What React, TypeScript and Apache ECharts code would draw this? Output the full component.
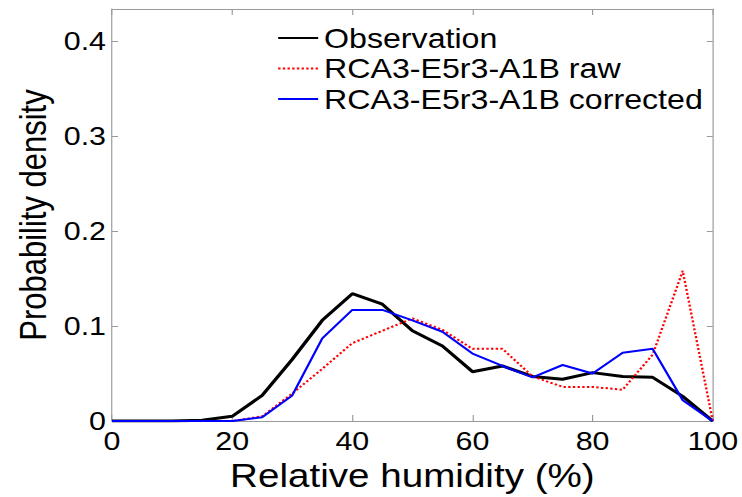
import React, { useEffect, useRef } from "react";
import * as echarts from "echarts";

const humidity = [0, 5, 10, 15, 20, 25, 30, 35, 40, 45, 50, 55, 60, 65, 70, 75, 80, 85, 90, 95, 100];
const observation = [0, 0, 0, 0.001, 0.005, 0.027, 0.065, 0.106, 0.134, 0.123, 0.095, 0.079, 0.052, 0.058, 0.047, 0.044, 0.051, 0.047, 0.046, 0.026, 0];
const rawModel = [0, 0, 0, 0, 0, 0.005, 0.029, 0.055, 0.082, 0.095, 0.108, 0.096, 0.076, 0.076, 0.047, 0.036, 0.036, 0.033, 0.07, 0.158, 0];
const correctedModel = [0, 0, 0, 0, 0, 0.004, 0.027, 0.087, 0.117, 0.117, 0.106, 0.094, 0.071, 0.058, 0.046, 0.059, 0.05, 0.072, 0.076, 0.022, 0];
const seriesNames = ["Observation", "RCA3-E5r3-A1B raw", "RCA3-E5r3-A1B corrected"];

const FONT = "'Liberation Sans', Arial, Helvetica, sans-serif";
const AXIS_GRAY = "#9a9a9a";
// the reference picture is stretched horizontally; draw narrower and stretch with CSS
const STRETCH = 1.17;
const W = 742;
const H = 497;

export default function App() {
  const ref = useRef<HTMLDivElement>(null);
  useEffect(() => {
    if (!ref.current) return;
    const chart = echarts.init(ref.current, null, { renderer: "svg" });
    const pair = (ys: number[]) => humidity.map((x, i) => [x, ys[i]]);
    const s = (px: number) => px / STRETCH;
    const xCommon = {
      type: "value" as const,
      min: 0,
      max: 100,
      interval: 20,
      axisLine: { show: true, onZero: false, lineStyle: { color: AXIS_GRAY, width: 1 } },
      axisTick: { show: true, inside: true, length: 6, lineStyle: { color: AXIS_GRAY } },
      splitLine: { show: false },
    };
    const yCommon = {
      type: "value" as const,
      min: 0,
      max: 0.4335,
      interval: 0.1,
      axisLine: { show: true, onZero: false, lineStyle: { color: AXIS_GRAY, width: 1 } },
      axisTick: { show: true, inside: true, length: s(6), lineStyle: { color: AXIS_GRAY } },
      splitLine: { show: false },
    };
    chart.setOption({
      animation: false,
      backgroundColor: "#ffffff",
      grid: { left: s(112), right: s(29), top: 9, bottom: 74, containLabel: false },
      legend: {
        data: seriesNames,
        orient: "vertical",
        left: s(277),
        top: 24,
        padding: 0,
        itemGap: 2.5,
        itemWidth: s(40),
        itemHeight: 14,
        itemStyle: { opacity: 0 },
        textStyle: { fontFamily: FONT, fontSize: 27.5, color: "#000" },
      },
      xAxis: [
        {
          ...xCommon,
          position: "bottom",
          name: "Relative humidity (%)",
          nameLocation: "middle",
          nameGap: 30,
          nameTextStyle: { fontFamily: FONT, fontSize: 33, color: "#000" },
          axisLabel: { fontFamily: FONT, fontSize: 26, color: "#000", margin: 7 },
        },
        {
          ...xCommon,
          position: "top",
          axisLabel: { show: false },
        },
      ],
      yAxis: [
        {
          ...yCommon,
          position: "left",
          name: "Probability density",
          nameLocation: "middle",
          nameGap: s(52),
          nameTextStyle: { fontFamily: FONT, fontSize: 31, color: "#000" },
          axisLabel: {
            fontFamily: FONT,
            fontSize: 26,
            color: "#000",
            margin: s(6),
            showMaxLabel: false,
            formatter: (v: number) => (v === 0 ? "0" : v.toFixed(1)),
          },
        },
        {
          ...yCommon,
          position: "right",
          axisLabel: { show: false },
        },
      ],
      series: [
        {
          name: seriesNames[0],
          type: "line",
          data: pair(observation),
          symbol: "none",
          lineStyle: { color: "#000000", width: 3 },
          itemStyle: { color: "#000000" },
        },
        {
          name: seriesNames[1],
          type: "line",
          data: pair(rawModel),
          symbol: "none",
          lineStyle: { color: "#ff0000", width: 2, type: [2, 2] },
          itemStyle: { color: "#ff0000" },
        },
        {
          name: seriesNames[2],
          type: "line",
          data: pair(correctedModel),
          symbol: "none",
          lineStyle: { color: "#0000ff", width: 2 },
          itemStyle: { color: "#0000ff" },
        },
      ],
    });
    return () => chart.dispose();
  }, []);
  return (
    <div
      style={{
        position: "fixed",
        left: 0,
        top: 0,
        width: W,
        height: H,
        overflow: "hidden",
        background: "#fff",
      }}
    >
      <div
        ref={ref}
        style={{
          width: W / STRETCH,
          height: H,
          transform: `scaleX(${STRETCH})`,
          transformOrigin: "left top",
        }}
      />
    </div>
  );
}
